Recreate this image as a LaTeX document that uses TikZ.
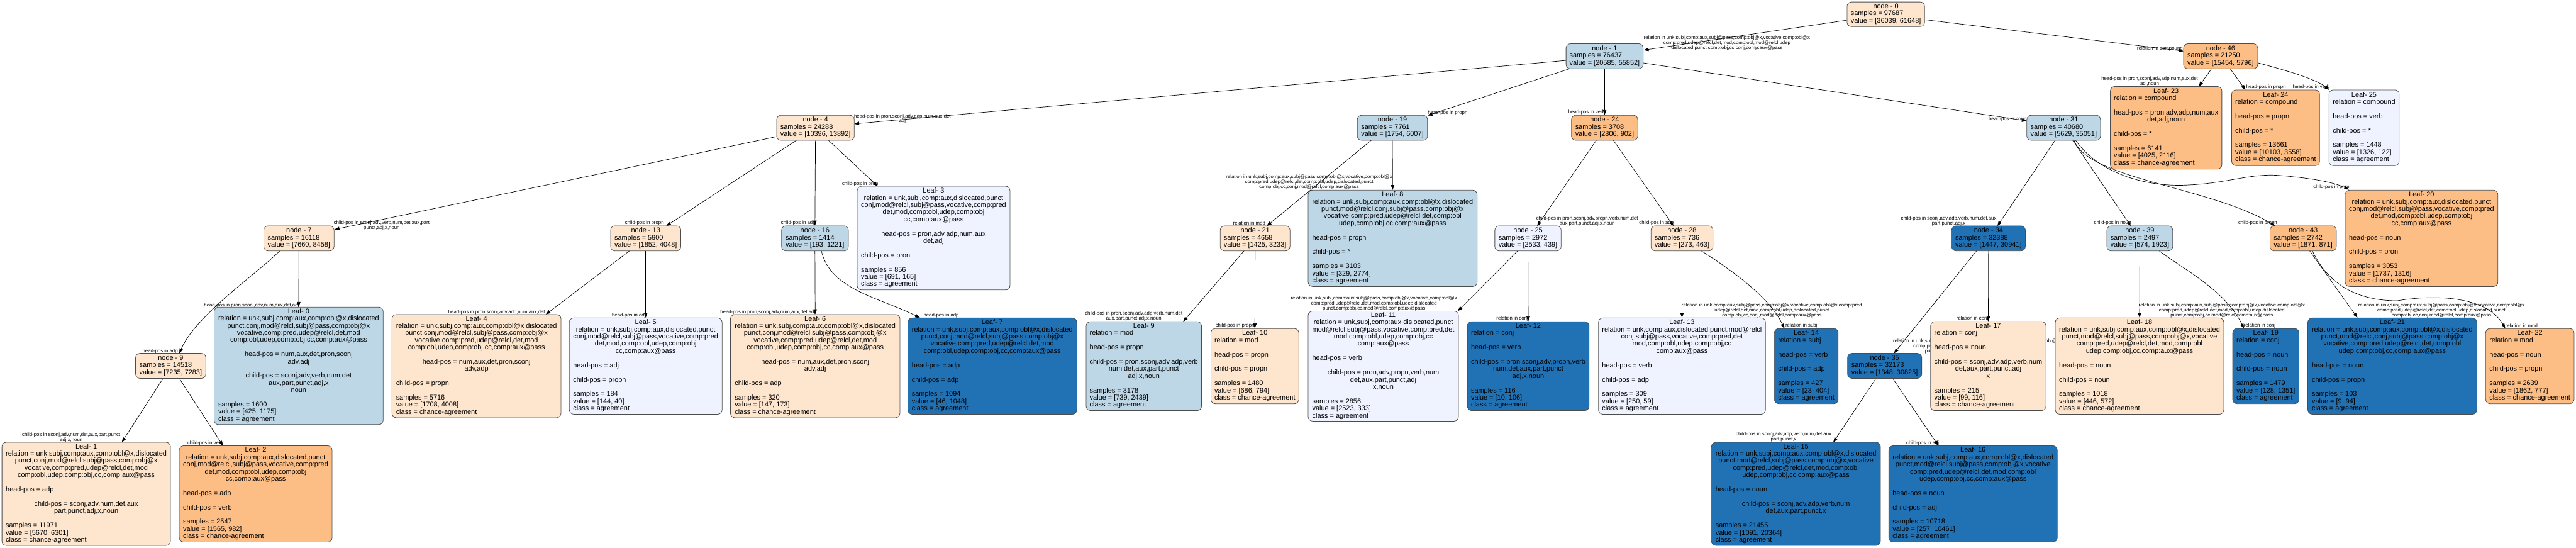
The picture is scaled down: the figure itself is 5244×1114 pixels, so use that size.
\documentclass[tikz,border=0pt]{standalone}
\usepackage{fontspec}
\setmainfont{Liberation Sans}
\usetikzlibrary{arrows.meta,backgrounds}
\definecolor{cPeach}{HTML}{FEE6CE}
\definecolor{cOrange}{HTML}{FDBE85}
\definecolor{cLBlue}{HTML}{BDD7E7}
\definecolor{cDBlue}{HTML}{2171B5}
\definecolor{cPale}{HTML}{EFF3FF}
\newcommand\Tab[1]{\begin{tabular}{@{}l@{}}#1\end{tabular}}
\newcommand\Ctr[1]{\multicolumn{1}{@{}c@{}}{#1}}
\newcommand\Inner[3]{\Tab{\Ctr{node - #1}\\samples = #2\\value = #3}}
\newcommand\RelA{\Ctr{relation = unk,subj,comp:aux,comp:obl@x,dislocated}\\\Ctr{punct,conj,mod@relcl,subj@pass,comp:obj@x}\\\Ctr{vocative,comp:pred,udep@relcl,det,mod}\\\Ctr{comp:obl,udep,comp:obj,cc,comp:aux@pass}}
\newcommand\RelB{\Ctr{relation = unk,subj,comp:aux,dislocated,punct}\\\Ctr{conj,mod@relcl,subj@pass,vocative,comp:pred}\\\Ctr{det,mod,comp:obl,udep,comp:obj}\\\Ctr{cc,comp:aux@pass}}
\newcommand\RelC{\Ctr{relation = unk,subj,comp:aux,comp:obl@x,dislocated}\\\Ctr{punct,mod@relcl,subj@pass,comp:obj@x,vocative}\\\Ctr{comp:pred,udep@relcl,det,mod,comp:obl}\\\Ctr{udep,comp:obj,cc,comp:aux@pass}}
\newcommand\RelD{\Ctr{relation = unk,subj,comp:aux,comp:obl@x,dislocated}\\\Ctr{punct,mod@relcl,conj,subj@pass,comp:obj@x}\\\Ctr{vocative,comp:pred,udep@relcl,det,comp:obl}\\\Ctr{udep,comp:obj,cc,comp:aux@pass}}
\tikzset{
  nbox/.style={draw=black!70, line width=1pt, rounded corners=9pt, inner xsep=6pt, inner ysep=2pt, font=\fontsize{14}{14.6}\selectfont, text=black},
  peachbox/.style={nbox, fill=cPeach},
  orangebox/.style={nbox, fill=cOrange},
  lbluebox/.style={nbox, fill=cLBlue},
  dbluebox/.style={nbox, fill=cDBlue},
  palebox/.style={nbox, fill=cPale},
  edge/.style={draw=black, line width=0.9pt, -{Triangle[length=10pt,width=7pt]}},
  elab/.style={font=\fontsize{10}{10}\selectfont, align=center, inner sep=0pt, text=black}
}
\begin{document}
\begin{tikzpicture}[x=1pt,y=-1pt]
\useasboundingbox (0,0) rectangle (5244,1114);
% ---------------- rank 0 / 1
\node[peachbox, minimum width=158pt, minimum height=50pt] (n0) at (3839,29) {\Inner{0}{97687}{[36039, 61648]}};
\node[lbluebox, minimum width=157pt, minimum height=51pt] (n1) at (3266.5,114.5) {\Inner{1}{76437}{[20585, 55852]}};
\node[orangebox, minimum width=151pt, minimum height=51pt] (n46) at (4520.5,114.5) {\Inner{46}{21250}{[15454, 5796]}};
% ---------------- rank 2
\node[peachbox, minimum width=158pt, minimum height=51pt] (n4) at (1660,260) {\Inner{4}{24288}{[10396, 13892]}};
\node[lbluebox, minimum width=143pt, minimum height=51pt] (n19) at (2834.5,260) {\Inner{19}{7761}{[1754, 6007]}};
\node[orangebox, minimum width=135pt, minimum height=51pt] (n24) at (3266.5,260) {\Inner{24}{3708}{[2806, 902]}};
\node[lbluebox, minimum width=150pt, minimum height=51pt] (n31) at (4201,260) {\Inner{31}{40680}{[5629, 35051]}};
\node[orangebox, minimum width=227pt, minimum height=168pt] (L23) at (4409.5,260) {\Tab{\Ctr{Leaf- 23}\\relation = compound\\ \\\Ctr{head-pos = pron,adv,adp,num,aux}\\\Ctr{det,adj,noun}\\ \\child-pos = *\\ \\samples = 6141\\value = [4025, 2116]\\class = chance-agreement}};
\node[orangebox, minimum width=179pt, minimum height=154pt] (L24) at (4632.5,260) {\Tab{\Ctr{Leaf- 24}\\relation = compound\\ \\head-pos = propn\\ \\child-pos = *\\ \\samples = 13661\\value = [10103, 3558]\\class = chance-agreement}};
\node[palebox, minimum width=143pt, minimum height=154pt] (L25) at (4812.5,260) {\Tab{\Ctr{Leaf- 25}\\relation = compound\\ \\head-pos = verb\\ \\child-pos = *\\ \\samples = 1448\\value = [1326, 122]\\class = agreement}};
% ---------------- rank 3
\node[peachbox, minimum width=143pt, minimum height=51pt] (n7) at (608.5,485) {\Inner{7}{16118}{[7660, 8458]}};
\node[peachbox, minimum width=143pt, minimum height=51pt] (n13) at (1314.5,485) {\Inner{13}{5900}{[1852, 4048]}};
\node[lbluebox, minimum width=136pt, minimum height=51pt] (n16) at (1659,485) {\Inner{16}{1414}{[193, 1221]}};
\node[palebox, minimum width=311pt, minimum height=211pt] (L3) at (1900.5,484.5) {\Tab{\Ctr{Leaf- 3}\\\RelB\\ \\\Ctr{head-pos = pron,adv,adp,num,aux}\\\Ctr{det,adj}\\ \\child-pos = pron\\ \\samples = 856\\value = [691, 165]\\class = agreement}};
\node[peachbox, minimum width=142pt, minimum height=51pt] (n21) at (2555,485) {\Inner{21}{4658}{[1425, 3233]}};
\node[lbluebox, minimum width=344pt, minimum height=196pt] (L8) at (2835,485) {\Tab{\Ctr{Leaf- 8}\\\RelD\\ \\head-pos = propn\\ \\child-pos = *\\ \\samples = 3103\\value = [329, 2774]\\class = agreement}};
\node[palebox, minimum width=135pt, minimum height=51pt] (n25) at (3110.5,485) {\Inner{25}{2972}{[2533, 439]}};
\node[peachbox, minimum width=126pt, minimum height=51pt] (n28) at (3424,485) {\Inner{28}{736}{[273, 463]}};
\node[dbluebox, minimum width=150pt, minimum height=51pt] (n34) at (4048,485) {\Inner{34}{32388}{[1447, 30941]}};
\node[lbluebox, minimum width=134pt, minimum height=51pt] (n39) at (4356,485) {\Inner{39}{2497}{[574, 1923]}};
\node[orangebox, minimum width=135pt, minimum height=51pt] (n43) at (4688.5,485) {\Inner{43}{2742}{[1871, 871]}};
\node[orangebox, minimum width=311pt, minimum height=196pt] (L20) at (4929.5,485) {\Tab{\Ctr{Leaf- 20}\\\RelB\\ \\head-pos = noun\\ \\child-pos = pron\\ \\samples = 3053\\value = [1737, 1316]\\class = chance-agreement}};
% ---------------- rank 4
\node[peachbox, minimum width=143pt, minimum height=51pt] (n9) at (347.5,744.5) {\Inner{9}{14518}{[7235, 7283]}};
\node[lbluebox, minimum width=344pt, minimum height=239pt] (L0) at (608,744.5) {\Tab{\Ctr{Leaf- 0}\\\RelA\\ \\\Ctr{head-pos = num,aux,det,pron,sconj}\\\Ctr{adv,adj}\\ \\\Ctr{child-pos = sconj,adv,verb,num,det}\\\Ctr{aux,part,punct,adj,x}\\\Ctr{noun}\\ \\samples = 1600\\value = [425, 1175]\\class = agreement}};
\node[peachbox, minimum width=344pt, minimum height=210pt] (L4) at (970,745) {\Tab{\Ctr{Leaf- 4}\\\RelA\\ \\\Ctr{head-pos = num,aux,det,pron,sconj}\\\Ctr{adv,adp}\\ \\child-pos = propn\\ \\samples = 5716\\value = [1708, 4008]\\class = chance-agreement}};
\node[palebox, minimum width=311pt, minimum height=196pt] (L5) at (1314.5,745) {\Tab{\Ctr{Leaf- 5}\\\RelB\\ \\head-pos = adj\\ \\child-pos = propn\\ \\samples = 184\\value = [144, 40]\\class = agreement}};
\node[peachbox, minimum width=345pt, minimum height=210pt] (L6) at (1659.5,745) {\Tab{\Ctr{Leaf- 6}\\\RelA\\ \\\Ctr{head-pos = num,aux,det,pron,sconj}\\\Ctr{adv,adj}\\ \\child-pos = adp\\ \\samples = 320\\value = [147, 173]\\class = chance-agreement}};
\node[dbluebox, minimum width=344pt, minimum height=196pt] (L7) at (2020,745) {\Tab{\Ctr{Leaf- 7}\\\RelA\\ \\head-pos = adp\\ \\child-pos = adp\\ \\samples = 1094\\value = [46, 1048]\\class = agreement}};
\node[lbluebox, minimum width=235pt, minimum height=181pt] (L9) at (2328.5,745) {\Tab{\Ctr{Leaf- 9}\\relation = mod\\ \\head-pos = propn\\ \\\Ctr{child-pos = pron,sconj,adv,adp,verb}\\\Ctr{num,det,aux,part,punct}\\\Ctr{adj,x,noun}\\ \\samples = 3178\\value = [739, 2439]\\class = agreement}};
\node[peachbox, minimum width=179pt, minimum height=153pt] (L10) at (2554.5,745) {\Tab{\Ctr{Leaf- 10}\\relation = mod\\ \\head-pos = propn\\ \\child-pos = propn\\ \\samples = 1480\\value = [686, 794]\\class = chance-agreement}};
\node[palebox, minimum width=306pt, minimum height=224pt] (L11) at (2816,745) {\Tab{\Ctr{Leaf- 11}\\\Ctr{relation = unk,subj,comp:aux,dislocated,punct}\\\Ctr{mod@relcl,subj@pass,vocative,comp:pred,det}\\\Ctr{mod,comp:obl,udep,comp:obj,cc}\\\Ctr{comp:aux@pass}\\ \\head-pos = verb\\ \\\Ctr{child-pos = pron,adv,propn,verb,num}\\\Ctr{det,aux,part,punct,adj}\\\Ctr{x,noun}\\ \\samples = 2856\\value = [2523, 333]\\class = agreement}};
\node[dbluebox, minimum width=248pt, minimum height=181pt] (L12) at (3111,745) {\Tab{\Ctr{Leaf- 12}\\relation = conj\\ \\head-pos = verb\\ \\\Ctr{child-pos = pron,sconj,adv,propn,verb}\\\Ctr{num,det,aux,part,punct}\\\Ctr{adj,x,noun}\\ \\samples = 116\\value = [10, 106]\\class = agreement}};
\node[palebox, minimum width=340pt, minimum height=196pt] (L13) at (3424,745) {\Tab{\Ctr{Leaf- 13}\\\Ctr{relation = unk,comp:aux,dislocated,punct,mod@relcl}\\\Ctr{conj,subj@pass,vocative,comp:pred,det}\\\Ctr{mod,comp:obl,udep,comp:obj,cc}\\\Ctr{comp:aux@pass}\\ \\head-pos = verb\\ \\child-pos = adp\\ \\samples = 309\\value = [250, 59]\\class = agreement}};
\node[dbluebox, minimum width=130pt, minimum height=153pt] (L14) at (3677,745) {\Tab{\Ctr{Leaf- 14}\\relation = subj\\ \\head-pos = verb\\ \\child-pos = adp\\ \\samples = 427\\value = [23, 404]\\class = agreement}};
\node[dbluebox, minimum width=151pt, minimum height=51pt] (n35) at (3836.5,744.5) {\Inner{35}{32173}{[1348, 30825]}};
\node[peachbox, minimum width=235pt, minimum height=181pt] (L17) at (4047.5,745) {\Tab{\Ctr{Leaf- 17}\\relation = conj\\ \\head-pos = noun\\ \\\Ctr{child-pos = sconj,adv,adp,verb,num}\\\Ctr{det,aux,part,punct,adj}\\\Ctr{x}\\ \\samples = 215\\value = [99, 116]\\class = chance-agreement}};
\node[peachbox, minimum width=343pt, minimum height=196pt] (L18) at (4355.5,745) {\Tab{\Ctr{Leaf- 18}\\\RelC\\ \\head-pos = noun\\ \\child-pos = noun\\ \\samples = 1018\\value = [446, 572]\\class = chance-agreement}};
\node[dbluebox, minimum width=135pt, minimum height=153pt] (L19) at (4612.5,745) {\Tab{\Ctr{Leaf- 19}\\relation = conj\\ \\head-pos = noun\\ \\child-pos = noun\\ \\samples = 1479\\value = [128, 1351]\\class = agreement}};
\node[dbluebox, minimum width=344pt, minimum height=196pt] (L21) at (4870,745) {\Tab{\Ctr{Leaf- 21}\\\RelD\\ \\head-pos = noun\\ \\child-pos = propn\\ \\samples = 103\\value = [9, 94]\\class = agreement}};
\node[orangebox, minimum width=180pt, minimum height=153pt] (L22) at (5150,745) {\Tab{\Ctr{Leaf- 22}\\relation = mod\\ \\head-pos = noun\\ \\child-pos = propn\\ \\samples = 2639\\value = [1862, 777]\\class = chance-agreement}};
% ---------------- rank 5
\node[peachbox, minimum width=343pt, minimum height=210pt] (L1) at (175.5,1005) {\Tab{\Ctr{Leaf- 1}\\\RelA\\ \\head-pos = adp\\ \\\Ctr{child-pos = sconj,adv,num,det,aux}\\\Ctr{part,punct,adj,x,noun}\\ \\samples = 11971\\value = [5670, 6301]\\class = chance-agreement}};
\node[orangebox, minimum width=311pt, minimum height=196pt] (L2) at (520.5,1005) {\Tab{\Ctr{Leaf- 2}\\\RelB\\ \\head-pos = adp\\ \\child-pos = verb\\ \\samples = 2547\\value = [1565, 982]\\class = chance-agreement}};
\node[dbluebox, minimum width=344pt, minimum height=210pt] (L15) at (3656,1005) {\Tab{\Ctr{Leaf- 15}\\\RelC\\ \\head-pos = noun\\ \\\Ctr{child-pos = sconj,adv,adp,verb,num}\\\Ctr{det,aux,part,punct,x}\\ \\samples = 21455\\value = [1091, 20364]\\class = agreement}};
\node[dbluebox, minimum width=343pt, minimum height=196pt] (L16) at (4016.5,1005) {\Tab{\Ctr{Leaf- 16}\\\RelC\\ \\head-pos = noun\\ \\child-pos = adj\\ \\samples = 10718\\value = [257, 10461]\\class = agreement}};

\begin{pgfonlayer}{background}
\fill[white] (0,0) rectangle (5244,1114);
% ---------------- edges
\draw[edge] ([shift={(-79,12)}]n0.center) -- ([shift={(79.5,-12.5)}]n1.center);
\draw[edge] ([shift={(79,11)}]n0.center) -- ([shift={(-75.5,-10.5)}]n46.center);
\draw[edge] ([shift={(-78.5,8.5)}]n1.center) -- ([shift={(79,-8)}]n4.center);
\draw[edge] ([shift={(-71.5,25.5)}]n1.center) -- ([shift={(71.5,-25)}]n19.center);
\draw[edge] (n1.south) -- (n24.north);
\draw[edge] ([shift={(78.5,13.5)}]n1.center) -- ([shift={(-75,-14)}]n31.center);
\draw[edge] ([shift={(-18.5,25.5)}]n46.center) -- ([shift={(66.5,-84)}]L23.center);
\draw[edge] ([shift={(19.5,25.5)}]n46.center) -- ([shift={(-61.5,-77)}]L24.center);
\draw[edge] ([shift={(76.5,13.5)}]n46.center) .. controls (4640,140) and (4710,158) .. ([shift={(-70.5,-77)}]L25.center);
\draw[edge] ([shift={(-79,18)}]n4.center) -- ([shift={(72.5,-18)}]n7.center);
\draw[edge] ([shift={(-38,25)}]n4.center) -- ([shift={(41.5,-25)}]n13.center);
\draw[edge] (n4.south) -- (n16.north);
\draw[edge] ([shift={(26,25)}]n4.center) -- ([shift={(-113.5,-105.5)}]L3.center);
\draw[edge] ([shift={(-38.5,25)}]n7.center) .. controls (520,560) and (400,640) .. ([shift={(17.5,-25.5)}]n9.center);
\draw[edge] (n7.south) -- (L0.north);
\draw[edge] ([shift={(-15.5,25.5)}]n9.center) -- ([shift={(72.5,-105)}]L1.center);
\draw[edge] ([shift={(17.5,25.5)}]n9.center) -- ([shift={(-66.5,-98)}]L2.center);
\draw[edge] ([shift={(-32.5,25)}]n13.center) -- ([shift={(141,-105)}]L4.center);
\draw[edge] (n13.south) -- (L5.north);
\draw[edge] (n16.south) -- (L6.north);
\draw[edge] ([shift={(13,25)}]n16.center) .. controls (1690,590) and (1790,605) .. ([shift={(-147,-98)}]L7.center);
\draw[edge] ([shift={(-42.5,25)}]n19.center) -- ([shift={(23.5,-25)}]n21.center);
\draw[edge] (n19.south) -- (L8.north);
\draw[edge] ([shift={(-22,25)}]n21.center) -- ([shift={(80,-90.5)}]L9.center);
\draw[edge] (n21.south) -- (L10.north);
\draw[edge] ([shift={(-16.5,25)}]n24.center) -- ([shift={(18.5,-25)}]n25.center);
\draw[edge] ([shift={(17.5,25)}]n24.center) -- ([shift={(-17,-25)}]n28.center);
\draw[edge] ([shift={(-20.5,25)}]n25.center) -- ([shift={(151.6,-112)}]L11.center);
\draw[edge] (n25.south) -- (L12.north);
\draw[edge] (n28.south) -- (L13.north);
\draw[edge] ([shift={(38.6,25)}]n28.center) .. controls (3510,540) and (3600,600) .. ([shift={(-44.4,-76.5)}]L14.center);
\draw[edge] ([shift={(-17,25)}]n31.center) -- ([shift={(18,-25)}]n34.center);
\draw[edge] ([shift={(18,25)}]n31.center) -- ([shift={(-18.3,-25)}]n39.center);
\draw[edge] ([shift={(21,25)}]n31.center) .. controls (4250,365) and (4500,380) .. ([shift={(-56.5,-25)}]n43.center);
\draw[edge] ([shift={(24,25)}]n31.center) .. controls (4270,350) and (4360,378) .. (4440,377) .. controls (4530,375) and (4580,352) .. (4640,357) .. controls (4700,362) and (4750,370) .. ([shift={(-147.5,-99)}]L20.center);
\draw[edge] ([shift={(-24,25)}]n34.center) -- ([shift={(19,-25.5)}]n35.center);
\draw[edge] (n34.south) -- (L17.north);
\draw[edge] ([shift={(-17.5,25.5)}]n35.center) -- ([shift={(76,-105)}]L15.center);
\draw[edge] ([shift={(16.5,25.5)}]n35.center) -- ([shift={(-70.5,-98)}]L16.center);
\draw[edge] (n39.south) -- (L18.north);
\draw[edge] ([shift={(39,25)}]n39.center) .. controls (4440,545) and (4530,590) .. ([shift={(-44.5,-76.5)}]L19.center);
\draw[edge] ([shift={(13,25)}]n43.center) -- ([shift={(-71,-98.5)}]L21.center);
\draw[edge] ([shift={(18.5,25)}]n43.center) .. controls (4740,580) and (4800,612) .. (4880,612) .. controls (4950,600) and (5060,600) .. ([shift={(-50,-77)}]L22.center);
% ---------------- edge labels
\node[elab] (t1) at (3515.5,87.5) {relation in unk,subj,comp:aux,subj@pass,comp:obj@x,vocative,comp:obl@x\\comp:pred,udep@relcl,det,mod,comp:obl,mod@relcl,udep\\dislocated,punct,comp:obj,cc,conj,comp:aux@pass};
\node[elab] (t2) at (4397,99) {relation in compound};
\node[elab] (t3) at (1837,242) {head-pos in pron,sconj,adv,adp,num,aux,det\\adj};
\node[elab] (t4) at (2947,230) {head-pos in propn};
\node[elab] (t5) at (3230,229) {head-pos in verb};
\node[elab] (t6) at (4087,243) {head-pos in noun};
\node[elab] (t7) at (4376,166) {head-pos in pron,sconj,adv,adp,num,aux,det\\adj,noun};
\node[elab] (t8) at (4613,177.5) {head-pos in propn};
\node[elab] (t9) at (4705,177.5) {head-pos in verb};
\node[elab] (t10) at (777,458.6) {child-pos in sconj,adv,verb,num,det,aux,part\\punct,adj,x,noun};
\node[elab] (t11) at (1312,454) {child-pos in propn};
\node[elab] (t12) at (1625,454) {child-pos in adp};
\node[elab] (t13) at (1751,374) {child-pos in pron};
\node[elab] (t14) at (326,715) {head-pos in adp};
\node[elab] (t15) at (512,621) {head-pos in pron,sconj,adv,num,aux,det,adj};
\node[elab] (t16) at (145,890) {child-pos in sconj,adv,num,det,aux,part,punct\\adj,x,noun};
\node[elab] (t17) at (418,901.5) {child-pos in verb};
\node[elab] (t18) at (1011,635) {head-pos in pron,sconj,adv,adp,num,aux,det};
\node[elab] (t19) at (1280,641.5) {head-pos in adj};
\node[elab] (t20) at (1563,635) {head-pos in pron,sconj,adv,num,aux,det,adj};
\node[elab] (t21) at (1916,641.5) {head-pos in adp};
\node[elab] (t22) at (2543,454) {relation in mod};
\node[elab] (t23) at (2665,371) {relation in unk,subj,comp:aux,subj@pass,comp:obj@x,vocative,comp:obl@x\\comp:pred,udep@relcl,det,comp:obl,udep,dislocated,punct\\comp:obj,cc,conj,mod@relcl,comp:aux@pass};
\node[elab] (t24) at (2308,643.6) {child-pos in pron,sconj,adv,adp,verb,num,det\\aux,part,punct,adj,x,noun};
\node[elab] (t25) at (2514,662.6) {child-pos in propn};
\node[elab] (t26) at (3231,449.6) {child-pos in pron,sconj,adv,propn,verb,num,det\\aux,part,punct,adj,x,noun};
\node[elab] (t27) at (3372,454) {child-pos in adp};
\node[elab] (t28) at (2797,617.6) {relation in unk,subj,comp:aux,subj@pass,comp:obj@x,vocative,comp:obl@x\\comp:pred,udep@relcl,det,mod,comp:obl,udep,dislocated\\punct,comp:obj,cc,mod@relcl,comp:aux@pass};
\node[elab] (t29) at (3078.5,648.6) {relation in conj};
\node[elab] (t30) at (3607,631.7) {relation in unk,comp:aux,subj@pass,comp:obj@x,vocative,comp:obl@x,comp:pred\\udep@relcl,det,mod,comp:obl,udep,dislocated,punct\\comp:obj,cc,conj,mod@relcl,comp:aux@pass};
\node[elab] (t31) at (3667,662.6) {relation in subj};
\node[elab] (t32) at (3967,449.6) {child-pos in sconj,adv,adp,verb,num,det,aux\\part,punct,adj,x};
\node[elab] (t33) at (4300.6,454) {child-pos in noun};
\node[elab] (t34) at (4596,454) {child-pos in propn};
\node[elab] (t35) at (4746,381) {child-pos in pron};
\node[elab] (t36) at (4023,704.4) {relation in unk,subj,comp:aux,subj@pass,comp:obj@x,vocative,comp:obl@x\\comp:pred,udep@relcl,det,mod,comp:obl,udep,dislocated\\punct,comp:obj,cc,mod@relcl,comp:aux@pass};
\node[elab] (t37) at (4015,648.6) {relation in conj};
\node[elab] (t38) at (3631,889.5) {child-pos in sconj,adv,adp,verb,num,det,aux\\part,punct,x};
\node[elab] (t39) at (3914,901.5) {child-pos in adj};
\node[elab] (t40) at (4523,631.7) {relation in unk,subj,comp:aux,subj@pass,comp:obj@x,vocative,comp:obl@x\\comp:pred,udep@relcl,det,mod,comp:obl,udep,dislocated\\punct,comp:obj,cc,mod@relcl,comp:aux@pass};
\node[elab] (t41) at (4600,662.6) {relation in conj};
\node[elab] (t42) at (4970,631.7) {relation in unk,subj,comp:aux,subj@pass,comp:obj@x,vocative,comp:obl@x\\comp:pred,udep@relcl,det,comp:obl,udep,dislocated,punct\\comp:obj,cc,conj,mod@relcl,comp:aux@pass};
\node[elab] (t43) at (5133,662.6) {relation in mod};
\end{pgfonlayer}
\end{tikzpicture}
\end{document}
